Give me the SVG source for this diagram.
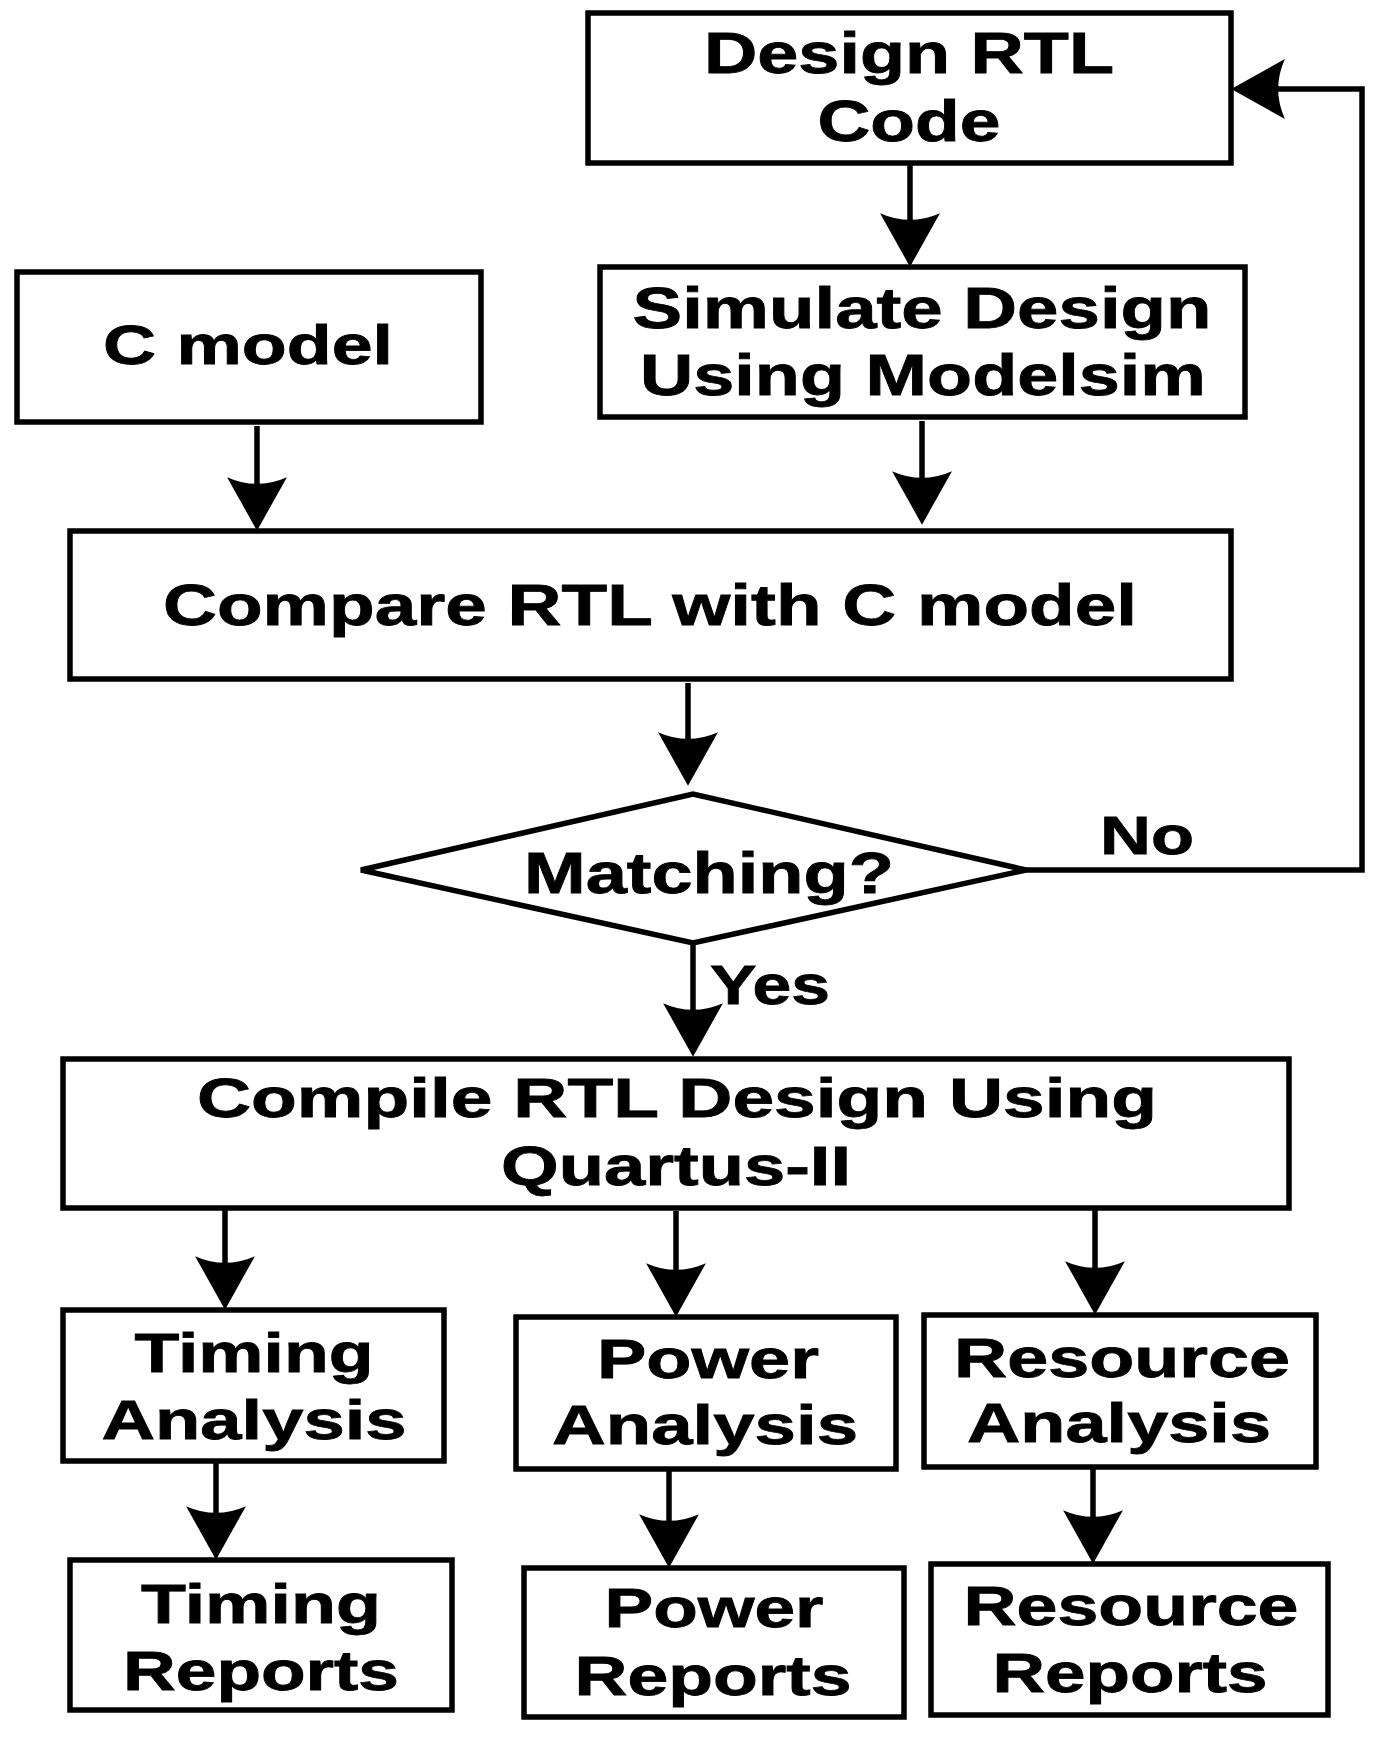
<svg xmlns="http://www.w3.org/2000/svg" width="1379" height="1740" viewBox="0 0 1379 1740">
<style>
.box{fill:#fff;stroke:#000;stroke-width:5.5}
.ln{fill:none;stroke:#000;stroke-width:5.5}
.t{font-family:"Liberation Sans",Arial,sans-serif;font-weight:bold;fill:#000;stroke:#000;stroke-width:0.8}
</style>
<defs>
<marker id="ah" markerUnits="userSpaceOnUse" markerWidth="64" markerHeight="64" viewBox="0 0 52 62" refX="27" refY="31" orient="auto">
<path d="M52,31 L0,2 Q13,31 0,60 Z" fill="#000"/>
</marker>
</defs>
<rect width="1379" height="1740" fill="#fff"/>
<g id="connectors">
<line class="ln" x1="910" y1="163" x2="910" y2="241" marker-end="url(#ah)"/>
<line class="ln" x1="922" y1="421" x2="922" y2="499" marker-end="url(#ah)"/>
<line class="ln" x1="257" y1="426" x2="257" y2="505" marker-end="url(#ah)"/>
<line class="ln" x1="688" y1="683" x2="688" y2="760" marker-end="url(#ah)"/>
<line class="ln" x1="693" y1="943" x2="693" y2="1031" marker-end="url(#ah)"/>
<polyline class="ln" points="1026,870 1362,870 1362,89 1257,89" marker-end="url(#ah)"/>
<line class="ln" x1="225" y1="1208" x2="225" y2="1284" marker-end="url(#ah)"/>
<line class="ln" x1="676" y1="1211" x2="676" y2="1291" marker-end="url(#ah)"/>
<line class="ln" x1="1095" y1="1209" x2="1095" y2="1289" marker-end="url(#ah)"/>
<line class="ln" x1="216" y1="1463" x2="216" y2="1534" marker-end="url(#ah)"/>
<line class="ln" x1="669" y1="1470" x2="669" y2="1542" marker-end="url(#ah)"/>
<line class="ln" x1="1093" y1="1467" x2="1093" y2="1538" marker-end="url(#ah)"/>
</g>
<g id="design-rtl">
<rect class="box" x="588" y="13" width="643" height="150"/>
<text class="t" x="909" y="73" font-size="58" text-anchor="middle" textLength="410" lengthAdjust="spacingAndGlyphs">Design RTL</text>
<text class="t" x="909" y="141" font-size="58" text-anchor="middle" textLength="183" lengthAdjust="spacingAndGlyphs">Code</text>
</g>
<g id="simulate">
<rect class="box" x="600" y="267" width="645" height="150"/>
<text class="t" x="922" y="328" font-size="58" text-anchor="middle" textLength="579" lengthAdjust="spacingAndGlyphs">Simulate Design</text>
<text class="t" x="923" y="395" font-size="58" text-anchor="middle" textLength="566" lengthAdjust="spacingAndGlyphs">Using Modelsim</text>
</g>
<g id="c-model">
<rect class="box" x="17" y="272" width="464" height="150"/>
<text class="t" x="248" y="364" font-size="56" text-anchor="middle" textLength="290" lengthAdjust="spacingAndGlyphs">C model</text>
</g>
<g id="compare">
<rect class="box" x="70" y="531" width="1161" height="148"/>
<text class="t" x="650" y="625" font-size="58" text-anchor="middle" textLength="974" lengthAdjust="spacingAndGlyphs">Compare RTL with C model</text>
</g>
<g id="matching">
<polygon class="box" points="361,870 693,794 1026,870 693,943"/>
<text class="t" x="709" y="893" font-size="58" text-anchor="middle" textLength="370" lengthAdjust="spacingAndGlyphs">Matching?</text>
<text class="t" x="1147" y="854" font-size="54" text-anchor="middle" textLength="94" lengthAdjust="spacingAndGlyphs">No</text>
<text class="t" x="770" y="1004" font-size="56" text-anchor="middle" textLength="120" lengthAdjust="spacingAndGlyphs">Yes</text>
</g>
<g id="compile">
<rect class="box" x="63" y="1059" width="1226" height="149"/>
<text class="t" x="677" y="1117" font-size="56" text-anchor="middle" textLength="960" lengthAdjust="spacingAndGlyphs">Compile RTL Design Using</text>
<text class="t" x="676" y="1185" font-size="56" text-anchor="middle" textLength="350" lengthAdjust="spacingAndGlyphs">Quartus-II</text>
</g>
<g id="timing-analysis">
<rect class="box" x="63" y="1310" width="381" height="151"/>
<text class="t" x="254" y="1372" font-size="56" text-anchor="middle" textLength="239" lengthAdjust="spacingAndGlyphs">Timing</text>
<text class="t" x="254" y="1439" font-size="56" text-anchor="middle" textLength="305" lengthAdjust="spacingAndGlyphs">Analysis</text>
</g>
<g id="power-analysis">
<rect class="box" x="516" y="1317" width="380" height="152"/>
<text class="t" x="708" y="1378" font-size="56" text-anchor="middle" textLength="222" lengthAdjust="spacingAndGlyphs">Power</text>
<text class="t" x="705" y="1444" font-size="56" text-anchor="middle" textLength="306" lengthAdjust="spacingAndGlyphs">Analysis</text>
</g>
<g id="resource-analysis">
<rect class="box" x="924" y="1315" width="392" height="152"/>
<text class="t" x="1122" y="1377" font-size="56" text-anchor="middle" textLength="336" lengthAdjust="spacingAndGlyphs">Resource</text>
<text class="t" x="1119" y="1442" font-size="56" text-anchor="middle" textLength="304" lengthAdjust="spacingAndGlyphs">Analysis</text>
</g>
<g id="timing-reports">
<rect class="box" x="70" y="1560" width="382" height="150"/>
<text class="t" x="261" y="1623" font-size="56" text-anchor="middle" textLength="240" lengthAdjust="spacingAndGlyphs">Timing</text>
<text class="t" x="261" y="1690" font-size="56" text-anchor="middle" textLength="276" lengthAdjust="spacingAndGlyphs">Reports</text>
</g>
<g id="power-reports">
<rect class="box" x="524" y="1568" width="380" height="149"/>
<text class="t" x="714" y="1627" font-size="56" text-anchor="middle" textLength="219" lengthAdjust="spacingAndGlyphs">Power</text>
<text class="t" x="713" y="1695" font-size="56" text-anchor="middle" textLength="277" lengthAdjust="spacingAndGlyphs">Reports</text>
</g>
<g id="resource-reports">
<rect class="box" x="931" y="1564" width="397" height="151"/>
<text class="t" x="1131" y="1625" font-size="56" text-anchor="middle" textLength="335" lengthAdjust="spacingAndGlyphs">Resource</text>
<text class="t" x="1130" y="1692" font-size="56" text-anchor="middle" textLength="275" lengthAdjust="spacingAndGlyphs">Reports</text>
</g>
</svg>
